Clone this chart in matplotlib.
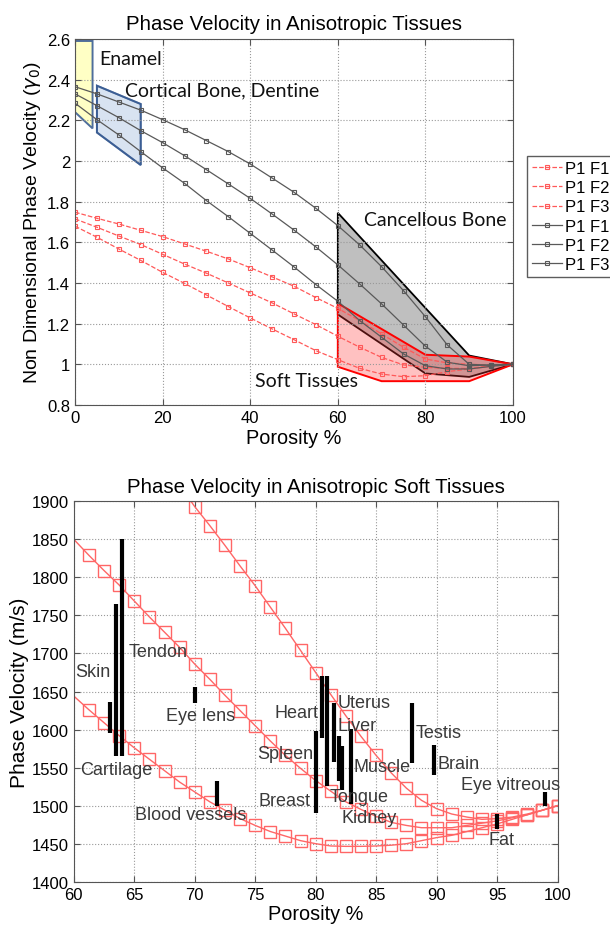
import numpy as np
import matplotlib
matplotlib.use('Agg')
import matplotlib.pyplot as plt
from matplotlib.patches import Polygon

plt.rcParams['font.family'] = ['Liberation Sans', 'DejaVu Sans']

# ---- top chart data: non dimensional phase velocity vs porosity ----
por = [0, 5, 10, 15, 20, 25, 30, 35, 40, 45, 50, 55, 60, 65, 70, 75, 80, 85, 90, 95, 100]

red_f1 = [1.748, 1.718, 1.69, 1.659, 1.628, 1.592, 1.556, 1.518, 1.475, 1.43, 1.384,
          1.328, 1.275, 1.215, 1.149, 1.084, 1.026, 1.007, 1.0, 0.997, 1.0]
red_f2 = [1.715, 1.674, 1.631, 1.589, 1.541, 1.493, 1.448, 1.4, 1.351, 1.302, 1.248,
          1.195, 1.138, 1.084, 1.034, 0.997, 0.985, 0.98, 0.98, 0.993, 1.0]
red_f3 = [1.679, 1.625, 1.567, 1.511, 1.452, 1.398, 1.341, 1.284, 1.228, 1.174, 1.121,
          1.067, 1.023, 0.98, 0.952, 0.939, 0.944, 0.964, 0.977, 0.99, 1.0]

blk_f1 = [2.365, 2.33, 2.29, 2.25, 2.203, 2.154, 2.1, 2.046, 1.985, 1.916, 1.846,
          1.767, 1.682, 1.587, 1.48, 1.362, 1.234, 1.095, 1.0, 0.995, 1.0]
blk_f2 = [2.33, 2.272, 2.213, 2.149, 2.09, 2.026, 1.957, 1.887, 1.816, 1.739, 1.66,
          1.577, 1.489, 1.395, 1.297, 1.193, 1.089, 1.01, 0.993, 0.997, 1.0]
blk_f3 = [2.284, 2.203, 2.128, 2.046, 1.966, 1.89, 1.805, 1.726, 1.644, 1.562, 1.479,
          1.392, 1.31, 1.215, 1.133, 1.051, 0.993, 0.977, 0.977, 0.99, 1.0]

# tissue regions (porosity, gamma)
enamel = [(0, 2.59), (4, 2.59), (4, 2.16), (0, 2.24)]
cortical = [(5, 2.37), (15, 2.28), (15, 1.98), (5, 2.14)]
cancellous = [(60, 1.745), (90, 1.043), (100, 1.0), (90, 0.938), (80, 0.955), (60, 1.245)]
soft = [(60, 1.30), (80, 1.047), (90, 1.038), (100, 1.0), (90, 0.917), (70, 0.917), (60, 0.988)]

# ---- bottom chart data: phase velocity (m/s) in soft tissues ----
x_c1 = [68.75, 70, 71.25, 72.5, 73.75, 75, 76.25, 77.5, 78.75, 80, 81.25, 82.5, 83.75,
        85, 86.25, 87.5, 88.75, 90, 91.25, 92.5, 93.75, 95, 96.25, 97.5, 98.75, 100]
v_c1 = [1921, 1893, 1868, 1842, 1815, 1789, 1761, 1733, 1704, 1675, 1646, 1618, 1591,
        1566, 1543, 1523, 1507, 1496, 1489, 1485, 1482, 1483, 1485, 1489, 1494, 1500]

x_c = [60, 61.25, 62.5, 63.75, 65, 66.25, 67.5, 68.75, 70, 71.25, 72.5, 73.75, 75, 76.25,
       77.5, 78.75, 80, 81.25, 82.5, 83.75, 85, 86.25, 87.5, 88.75, 90, 91.25, 92.5,
       93.75, 95, 96.25, 97.5, 98.75, 100]
v_c2 = [1850, 1829, 1809, 1790, 1769, 1748, 1728, 1708, 1686, 1666, 1645, 1625, 1605,
        1585, 1566, 1549, 1533, 1519, 1505, 1495, 1486, 1478, 1474, 1471, 1471, 1471,
        1474, 1477, 1480, 1484, 1488, 1494, 1500]
v_c3 = [1644, 1626, 1609, 1592, 1576, 1561, 1546, 1531, 1518, 1505, 1494, 1483, 1474,
        1466, 1460, 1454, 1450, 1447, 1446.5, 1446.5, 1447, 1448, 1450, 1454, 1458,
        1461, 1466, 1471, 1476, 1482, 1488, 1494, 1500]

tissues = ['Skin', 'Cartilage', 'Tendon', 'Eye lens', 'Blood vessels', 'Spleen', 'Breast',
           'Heart', 'Uterus', 'Liver', 'Muscle', 'Tongue', 'Kidney', 'Testis', 'Brain',
           'Fat', 'Eye vitreous']
t_por = [63.0, 63.45, 63.95, 70.0, 71.8, 80.0, 80.0, 80.5, 80.95, 81.55, 81.95, 82.2,
         82.95, 88.0, 89.75, 95.0, 99.0]
t_vmin = [1595, 1565, 1565, 1635, 1500, 1530, 1490, 1589, 1526, 1557, 1532, 1520, 1502,
          1556, 1540, 1469, 1499]
t_vmax = [1636, 1765, 1850, 1656, 1532, 1598, 1532, 1670, 1670, 1635, 1591, 1579, 1601,
          1635, 1580, 1489, 1518]
lab_x = [60.15, 60.5, 64.5, 67.6, 65.1, 75.2, 75.3, 76.6, 81.8, 81.8, 83.15, 81.15, 82.1,
         88.3, 90.05, 94.25, 92.05]
lab_y = [1676, 1547, 1702, 1618, 1489, 1568, 1507, 1623, 1635, 1606, 1552, 1512, 1484,
         1596, 1556, 1455, 1528]

fig = plt.figure(figsize=(6.1, 9.29), dpi=100)

# ================= top =================
ax = fig.add_axes([0.123, 0.563, 0.718, 0.394])
red = (1.0, 0.35, 0.35)
gray = (0.35, 0.35, 0.35)
for ys, lab in zip([red_f1, red_f2, red_f3], ['P1 F1', 'P1 F2', 'P1 F3']):
    ax.plot(por, ys, '--', color=red, lw=0.9, marker='s', ms=3.5, mfc='none',
            mec=red, mew=0.8, label=lab)
for ys, lab in zip([blk_f1, blk_f2, blk_f3], ['P1 F1', 'P1 F2', 'P1 F3']):
    ax.plot(por, ys, '-', color=gray, lw=0.9, marker='s', ms=3.5, mfc='none',
            mec=gray, mew=0.8, label=lab)

ax.add_patch(Polygon(enamel, closed=True, fc=(1, 1, 0.75), ec=(0.23, 0.37, 0.58), lw=1.4, alpha=0.9))
ax.add_patch(Polygon(cortical, closed=True, fc=(0.72, 0.8, 0.9), ec=(0.23, 0.37, 0.58), lw=1.4, alpha=0.55))
ax.add_patch(Polygon(cortical, closed=True, fc='none', ec=(0.23, 0.37, 0.58), lw=1.4))
ax.add_patch(Polygon(cancellous, closed=True, fc=(0.45, 0.45, 0.45), ec='none', alpha=0.45))
ax.add_patch(Polygon(cancellous, closed=True, fc='none', ec='black', lw=1.3))
ax.add_patch(Polygon(soft, closed=True, fc=(1, 0.2, 0.2), ec='none', alpha=0.3))
ax.add_patch(Polygon(soft, closed=True, fc='none', ec=(1, 0, 0), lw=1.4))

lbl_font = ['Lato', 'DejaVu Sans']
ax.text(5.6, 2.505, 'Enamel', fontsize=14, family=lbl_font, va='center', color='#111111')
ax.text(11.5, 2.35, 'Cortical Bone, Dentine', fontsize=14, family=lbl_font, va='center', color='#111111')
ax.text(66.0, 1.71, 'Cancellous Bone', fontsize=14, family=lbl_font, va='center', color='#111111')
ax.text(41.2, 0.92, 'Soft Tissues', fontsize=14, family=lbl_font, va='center', color='#111111')

ax.set_xlim(0, 100)
ax.set_ylim(0.8, 2.6)
ax.set_xticks(np.arange(0, 101, 20))
ax.set_yticks(np.arange(0.8, 2.61, 0.2))
ax.set_yticklabels(['0.8', '1', '1.2', '1.4', '1.6', '1.8', '2', '2.2', '2.4', '2.6'])
ax.grid(True, ls=':', color='#999999', lw=0.8)
ax.tick_params(direction='in', top=True, right=True, labelsize=12, length=4, color='#555555')
for s in ax.spines.values():
    s.set_color('#555555')
ax.set_title('Phase Velocity in Anisotropic Tissues', fontsize=14.7, pad=7)
ax.set_xlabel('Porosity %', fontsize=14.3, labelpad=2)
ax.set_ylabel(r'Non Dimensional Phase Velocity ($\gamma_0$)', fontsize=14, labelpad=3)

# legend sits partly outside the figure, like the original
fig.legend(*ax.get_legend_handles_labels(), loc='upper left', bbox_to_anchor=(0.864, 0.831),
           borderaxespad=0, fontsize=12, frameon=True, fancybox=False, edgecolor='#333333',
           handlelength=1.8, borderpad=0.3, labelspacing=0.25, handletextpad=0.2)

# ================= bottom =================
bx = fig.add_axes([0.121, 0.0498, 0.793, 0.4095])
pink = (1.0, 0.4, 0.4)
for xs, vs in [(x_c1, v_c1), (x_c, v_c2), (x_c, v_c3)]:
    bx.plot(xs, vs, '-', color=pink, lw=1.0, marker='s', ms=9, mfc='none', mec=pink,
            mew=1.0, markevery=slice(1, None))

for xp, lo, hi in zip(t_por, t_vmin, t_vmax):
    bx.vlines(xp, lo, hi, color='black', lw=3)
for name, tx, ty in zip(tissues, lab_x, lab_y):
    bx.text(tx, ty, name, fontsize=13, va='center', color='#3a3a3a')

bx.set_xlim(60, 100)
bx.set_ylim(1400, 1900)
bx.set_xticks(np.arange(60, 101, 5))
bx.set_yticks(np.arange(1400, 1901, 50))
bx.grid(True, ls=':', color='#999999', lw=0.8)
bx.tick_params(direction='in', top=True, right=True, labelsize=12, length=4, color='#555555')
for s in bx.spines.values():
    s.set_color('#555555')
bx.set_title('Phase Velocity in Anisotropic Soft Tissues', fontsize=14.7, pad=7)
bx.set_xlabel('Porosity %', fontsize=14.3, labelpad=2)
bx.set_ylabel('Phase Velocity (m/s)', fontsize=15, labelpad=2)

fig.savefig('out.png', dpi=100)
